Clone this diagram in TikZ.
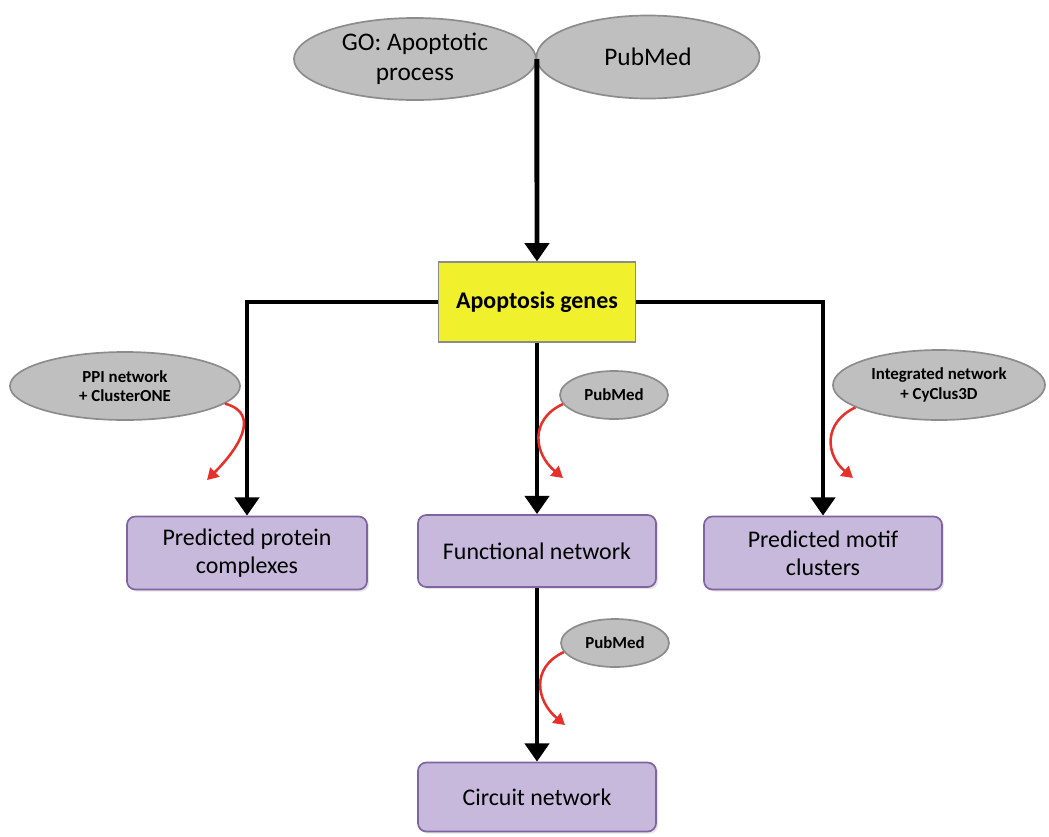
\documentclass[tikz,border=0pt]{standalone}
\usepackage{fontspec}
\setmainfont{Carlito}
\usetikzlibrary{shapes.geometric,arrows.meta,shadows}

\definecolor{OvalGray}{HTML}{BFBFBF}
\definecolor{OvalLine}{HTML}{8C8C8C}
\definecolor{BoxPurple}{HTML}{C6B9DB}
\definecolor{BoxLine}{HTML}{8064A2}
\definecolor{GeneYellow}{HTML}{F0F02C}
\definecolor{ArrRed}{HTML}{E8302A}

\begin{document}
\begin{tikzpicture}[x=0.025cm, y=-0.025cm,
  oval/.style={ellipse, draw=OvalLine, line width=1.2pt, fill=OvalGray, inner sep=0pt, align=center},
  result/.style={rectangle, rounded corners=6pt, draw=BoxLine, line width=1.2pt, fill=BoxPurple,
    inner sep=0pt, align=center, minimum width=5.95cm, minimum height=1.8cm,
    font=\fontsize{17}{20}\selectfont, drop shadow={opacity=0.2, shadow xshift=1.5pt, shadow yshift=-1.5pt}},
  flow/.style={line width=3.5pt, -{Triangle[width=17pt,length=13pt]}},
  hint/.style={line width=1.8pt, color=ArrRed, -{Triangle[width=9pt,length=8pt]}}]

 \useasboundingbox (0,0) rectangle (1049,836);

 %%%%%%%%%% Sources %%%%%%%%%%
 \node[oval, minimum width=6.05cm, minimum height=2.05cm, font=\fontsize{18}{21}\selectfont] (go) at (415,59) {GO: Apoptotic\\process};
 \node[oval, minimum width=5.575cm, minimum height=2.075cm, font=\fontsize{18}{21}\selectfont] (pubmed) at (648,57) {PubMed};

 %%%%%%%%%% Gene set %%%%%%%%%%
 \node[rectangle, draw=OvalLine, line width=0.8pt, fill=GeneYellow, minimum width=4.925cm, minimum height=2cm,
   font=\bfseries\fontsize{17}{20}\selectfont] (genes) at (537,302) {Apoptosis genes};

 % Results
 \node[result, minimum width=6cm, minimum height=1.825cm] (cplx) at (247,553) {Predicted protein\\complexes};
 \node[result] (func) at (537,551) {Functional network};
 \node[result, minimum height=1.825cm] (motif) at (823,553) {Predicted motif\\clusters};
 \node[result, minimum height=1.725cm] (circ) at (537,797) {Circuit network};

 % Methods
 \node[oval, minimum width=5.75cm, minimum height=1.7cm, font=\bfseries\fontsize{12}{14}\selectfont] (ppi) at (125,386) {PPI network\\+ ClusterONE};
 \node[oval, minimum width=2.7cm, minimum height=1.2cm, font=\bfseries\fontsize{12}{14}\selectfont] (pmfunc) at (614,395) {PubMed};
 \node[oval, minimum width=5.3cm, minimum height=1.75cm, font=\bfseries\fontsize{12}{14}\selectfont] (integ) at (939,385) {Integrated network\\+ CyClus3D};
 \node[oval, minimum width=2.7cm, minimum height=1.2cm, font=\bfseries\fontsize{12}{14}\selectfont] (pmcirc) at (615,643) {PubMed};

 %%%%%%%%%% Black flow %%%%%%%%%%
 \draw[flow] (go.east) -- (genes.north);
 \draw[flow] (genes.west) -| (cplx.north);
 \draw[flow] (genes.east) -| (motif.north);
 \draw[flow] (genes.south) -- (func.north);
 \draw[flow] (func.south) -- (circ.north);

 %%%%%%%%%% Red hints %%%%%%%%%%
 \coordinate (tipcplx) at (207,480);
 \coordinate (tipfunc) at (563,478);
 \coordinate (tipmotif) at (853,478);
 \coordinate (tipcirc) at (565,725);

 \draw[hint] (ppi.-10) to[out=-15, in=45, looseness=1.3] (tipcplx);
 \draw[hint] (pmfunc.190) to[out=205, in=140, looseness=1.3] (tipfunc);
 \draw[hint] (integ.195) to[out=205, in=140, looseness=1.3] (tipmotif);
 \draw[hint] (pmcirc.190) to[out=205, in=140, looseness=1.3] (tipcirc);

\end{tikzpicture}
\end{document}
